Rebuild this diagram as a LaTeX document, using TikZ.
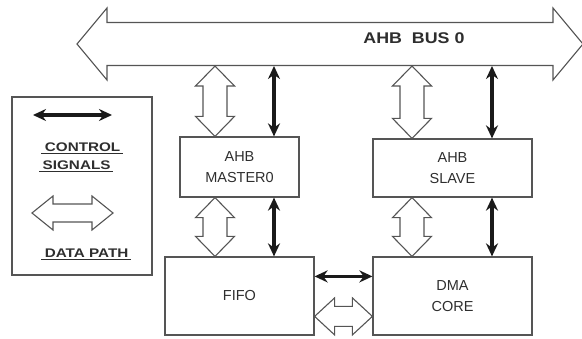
\documentclass[tikz,border=0pt]{standalone}
\usepackage{fontspec}
\setmainfont{Liberation Sans}
\usetikzlibrary{arrows.meta,calc}

\definecolor{linegray}{HTML}{555555}
\definecolor{textgray}{HTML}{2E2E2E}
\definecolor{ctrlblack}{HTML}{1A1A1A}

% underlined legend words
\newcommand{\legul}[1]{\leavevmode\vtop{\hbox{\hspace{3pt}#1\hspace{2pt}}\kern1.6pt\hrule height 1.1pt}}

% hollow two-headed data path, vertical: top tip, bottom tip
\newcommand{\vdata}[2]{%
 \draw[datapath] (#1) -- ++(19.5,20) -- ++(-7.5,0) -- ($(#2)+(12,-20)$) -- ++(7.5,0) -- (#2)
   -- ++(-19.5,-20) -- ++(7.5,0) -- ($(#1)+(-12,20)$) -- ++(-7.5,0) -- cycle;}
% hollow two-headed data path, horizontal: left tip, right tip, half body, half head, head length
\newcommand{\hdata}[5]{%
 \draw[datapath] (#1) -- ++({#5},{-#4}) -- ++(0,{#4-#3}) -- ($(#2)+({-#5},{-#3})$) -- ++(0,{#3-#4}) -- (#2)
   -- ++({-#5},{#4}) -- ++(0,{#3-#4}) -- ($(#1)+({#5},{#3})$) -- ++(0,{#4-#3}) -- cycle;}

\tikzset{
 block/.style={draw=linegray, line width=1.2pt, text=textgray, align=center,
   font=\fontsize{14.5}{20.5}\selectfont, inner sep=0pt},
 datapath/.style={draw=linegray, line width=1.1pt, fill=white, line join=miter},
 ctrl/.style={draw=ctrlblack, line width=3.6pt,
   {Stealth[length=13pt,width=12pt]}-{Stealth[length=13pt,width=12pt]}},
 legendtxt/.style={font=\bfseries\fontsize{12.5}{13}\selectfont, xscale=1.22, inner sep=0pt,
   text=textgray, anchor=base}
}

\begin{document}
\begin{tikzpicture}[x=1pt,y=-1pt]
\useasboundingbox (0,0) rectangle (582,338);

% bus
\coordinate (busL) at (77,44);
\coordinate (busR) at (583,44);
\hdata{busL}{busR}{21.5}{36}{30}
\node[font=\bfseries\fontsize{15.5}{15.5}\selectfont, xscale=1.15, text=textgray] (busname) at (414,38) {AHB\ \ BUS 0};

% blocks
\node[block, minimum width=119pt, minimum height=60pt] (master) at (239.5,167) {AHB\\MASTER0};
\node[block, minimum width=159pt, minimum height=58pt] (slave) at (452.5,168) {AHB\\SLAVE};
\node[block, minimum width=149pt, minimum height=78pt] (fifo) at (239.5,296) {FIFO};
\node[block, minimum width=159pt, minimum height=78pt] (dma) at (452.5,296) {DMA\\CORE};

% columns on the bus
\coordinate (d1) at (215,66);
\coordinate (c1) at (274,66);
\coordinate (d2) at (412,66);
\coordinate (c2) at (492,66);
\path (d1 |- master.north) coordinate (d1m) (c1 |- master.north) coordinate (c1m)
      (d1 |- master.south) coordinate (d1s) (c1 |- master.south) coordinate (c1s)
      (d1 |- fifo.north) coordinate (d1f) (c1 |- fifo.north) coordinate (c1f)
      (d2 |- slave.north) coordinate (d2m) (c2 |- slave.north) coordinate (c2m)
      (d2 |- slave.south) coordinate (d2s) (c2 |- slave.south) coordinate (c2s)
      (d2 |- dma.north) coordinate (d2f) (c2 |- dma.north) coordinate (c2f);

\vdata{d1}{d1m}
\draw[ctrl] (c1) -- (c1m);
\vdata{d2}{d2m}
\draw[ctrl] (c2) -- (c2m);
\vdata{d1s}{d1f}
\draw[ctrl] (c1s) -- (c1f);
\vdata{d2s}{d2f}
\draw[ctrl] (c2s) -- (c2f);

% fifo <-> dma
\coordinate (h1a) at ($(fifo.north east)+(0,20)$);
\coordinate (h1b) at ($(dma.north west)+(0,20)$);
\coordinate (h2a) at ($(fifo.north east)+(0,60)$);
\coordinate (h2b) at ($(dma.north west)+(0,60)$);
\draw[ctrl] (h1a) -- (h1b);
\hdata{h2a}{h2b}{10}{18.5}{20}

% legend
\node[draw=linegray, line width=1.2pt, minimum width=140pt, minimum height=178pt, inner sep=0pt] (legend) at (82,186) {};
\coordinate (lc1) at (33,115);
\coordinate (lc2) at (112,115);
\draw[ctrl] (lc1) -- (lc2);
\node[legendtxt] (ctl) at (82,151) {\legul{CONTROL}};
\node[legendtxt] (sig) at (76,169) {\legul{SIGNALS}};
\coordinate (ld1) at (32,213);
\coordinate (ld2) at (113,213);
\hdata{ld1}{ld2}{9}{17}{21}
\node[legendtxt] (dp) at (86,257) {\legul{DATA PATH}};
\end{tikzpicture}
\end{document}
